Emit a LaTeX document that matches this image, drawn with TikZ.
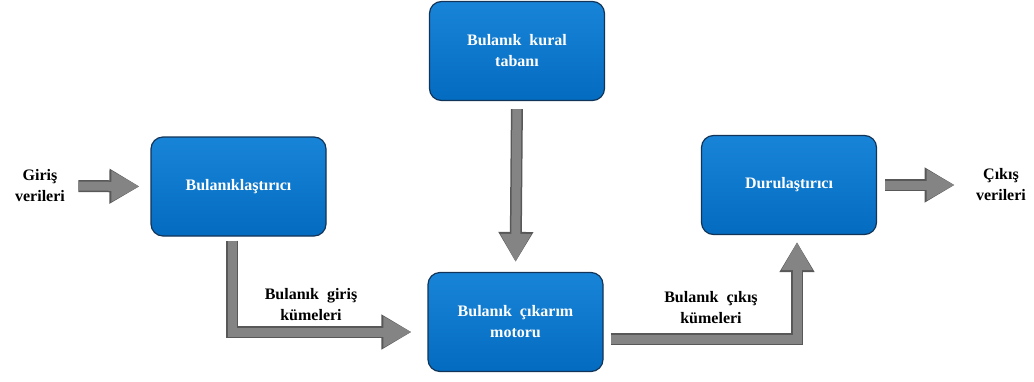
\documentclass[tikz,border=0pt]{standalone}
\usepackage{fontspec}
\setmainfont{Liberation Serif}
\usetikzlibrary{arrows.meta}

\definecolor{boxtop}{RGB}{24,132,216}
\definecolor{boxbot}{RGB}{4,108,192}
\definecolor{boxedge}{RGB}{18,52,88}
\definecolor{arrgray}{RGB}{132,132,132}
\definecolor{arredge}{RGB}{88,88,88}

\begin{document}
\begin{tikzpicture}[
    x=1pt, y=-1pt,
    box/.style={rectangle, rounded corners=12pt, draw=boxedge, line width=1.2pt,
      top color=boxtop, bottom color=boxbot, text=white, align=center,
      minimum width=175pt, minimum height=99pt,
      font=\bfseries\fontsize{16}{21}\selectfont},
    lbl/.style={align=center, font=\bfseries\fontsize{16}{21}\selectfont},
    fat/.style={draw=arrgray, line width=9pt,
      -{Triangle[length=28pt, width=29pt, fill=arrgray]},
      preaction={draw=arredge, line width=12pt,
        -{Triangle[length=30pt, width=33pt, fill=arredge]}}}
  ]
    \useasboundingbox (0,0) rectangle (1034,381);
    \node[box] (rules) at (517,51) {Bulanık \ kural\\tabanı};
    \node[box] (fuzz) at (238.5,186.5) {Bulanıklaştırıcı};
    \node[box] (infer) at (515.5,322) {Bulanık \ çıkarım\\motoru};
    \node[box] (defuzz) at (789,185) {Durulaştırıcı};
    \node[lbl] (in) at (40,186) {Giriş\\verileri};
    \node[lbl] (out) at (1001,185) {Çıkış\\verileri};
    \node[lbl] (finset) at (311,305) {Bulanık \ giriş\\kümeleri};
    \node[lbl] (foutset) at (711,308) {Bulanık \ çıkış\\kümeleri};
    % connectors
    \draw[fat, shorten <=10pt, shorten >=11pt] (in.east) -- (fuzz.west);
    \draw[fat, shorten <=8pt, shorten >=10pt] (rules.south) -- (infer.north);
    \draw[fat, shorten <=4pt, shorten >=16pt] ([xshift=-6.5pt]fuzz.south) |- ([yshift=-10pt]infer.west);
    \draw[fat, shorten <=7pt, shorten >=7pt] ([yshift=-17pt]infer.east) -| ([xshift=8pt]defuzz.south);
    \draw[fat, shorten <=8pt, shorten >=18pt] (defuzz.east) -- (defuzz.east -| out.west);
  \end{tikzpicture}
\end{document}
